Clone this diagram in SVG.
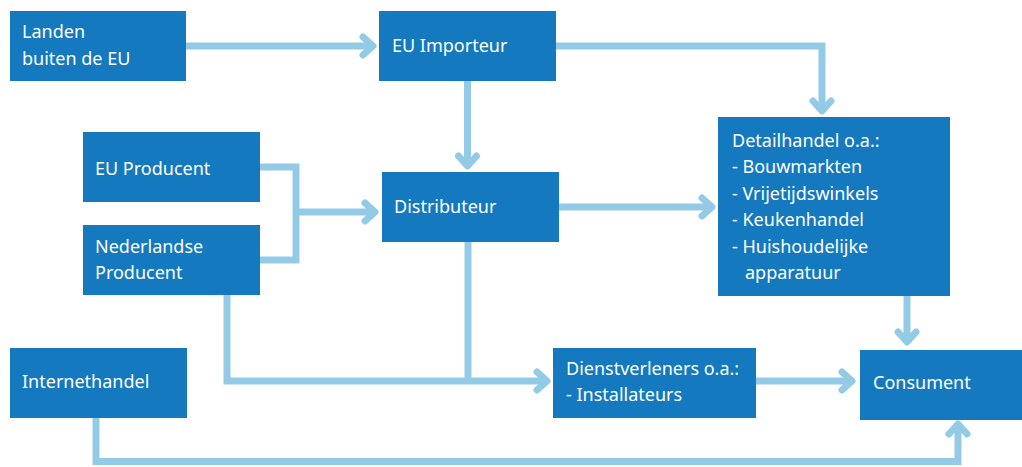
<svg xmlns="http://www.w3.org/2000/svg" width="1022" height="467" viewBox="0 0 1022 467">
<style>
.box{fill:#1479be}
.t{font-family:"Noto Sans","Open Sans",sans-serif;font-size:18px;fill:#ffffff}
.c{fill:none;stroke:#93cbe7;stroke-width:7;stroke-linejoin:miter}
.a{marker-end:url(#arr)}
</style>
<defs>
<marker id="arr" markerUnits="userSpaceOnUse" orient="auto" viewBox="-16 -16 22 32" markerWidth="22" markerHeight="32" refX="0" refY="0" overflow="visible">
<path d="M-10,-9 L0,0 L-10,9" fill="none" stroke="#93cbe7" stroke-width="7" stroke-linecap="round" stroke-linejoin="round"/>
</marker>
</defs>
<rect width="1022" height="467" fill="#ffffff"/>
<g id="connectors">
<path class="c a" d="M186,46 H373"/>
<path class="c a" d="M467.5,81 V166"/>
<path class="c a" d="M556,46 H822 V111"/>
<path class="c" d="M260,167 H296 V260 H260"/>
<path class="c a" d="M296,212 H375"/>
<path class="c a" d="M559,207 H712"/>
<path class="c" d="M468,242 V381"/>
<path class="c a" d="M227,295 V381 H547"/>
<path class="c a" d="M756,381 H852"/>
<path class="c a" d="M907,296 V342"/>
<path class="c a" d="M96,418 V461.5 H958 V424"/>
</g>
<g id="landen">
<rect class="box" x="10" y="11" width="176" height="70"/>
<text class="t" x="22" y="38">Landen</text>
<text class="t" x="22" y="65">buiten de EU</text>
</g>
<g id="eu-importeur">
<rect class="box" x="379" y="11" width="177" height="70"/>
<text class="t" x="392" y="52">EU Importeur</text>
</g>
<g id="eu-producent">
<rect class="box" x="83" y="132" width="177" height="70"/>
<text class="t" x="95" y="175">EU Producent</text>
</g>
<g id="nederlandse-producent">
<rect class="box" x="83" y="225" width="177" height="70"/>
<text class="t" x="95" y="253">Nederlandse</text>
<text class="t" x="95" y="279">Producent</text>
</g>
<g id="distributeur">
<rect class="box" x="382" y="172" width="177" height="70"/>
<text class="t" x="394" y="213">Distributeur</text>
</g>
<g id="detailhandel">
<rect class="box" x="718" y="117" width="232" height="179"/>
<text class="t" x="732" y="147">Detailhandel o.a.:</text>
<text class="t" x="732" y="173">- Bouwmarkten</text>
<text class="t" x="732" y="200">- Vrijetijdswinkels</text>
<text class="t" x="732" y="226">- Keukenhandel</text>
<text class="t" x="732" y="253">- Huishoudelijke</text>
<text class="t" x="745" y="279">apparatuur</text>
</g>
<g id="internethandel">
<rect class="box" x="10" y="348" width="177" height="70"/>
<text class="t" x="22" y="388">Internethandel</text>
</g>
<g id="dienstverleners">
<rect class="box" x="553" y="348" width="203" height="70"/>
<text class="t" x="566" y="375">Dienstverleners o.a.:</text>
<text class="t" x="566" y="401">- Installateurs</text>
</g>
<g id="consument">
<rect class="box" x="860" y="350" width="162" height="70"/>
<text class="t" x="873" y="389">Consument</text>
</g>
</svg>
